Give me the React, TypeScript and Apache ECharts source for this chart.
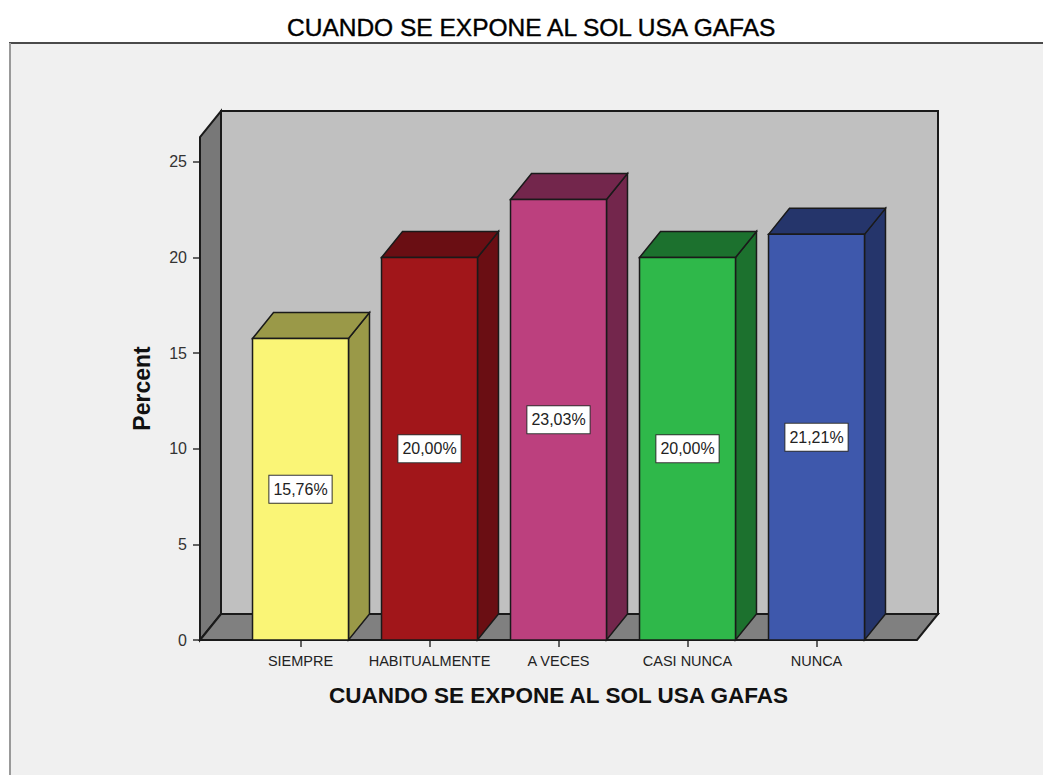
import React, { useEffect, useRef } from "react";
import * as echarts from "echarts";

// Frequency of "CUANDO SE EXPONE AL SOL USA GAFAS", in percent
const categories = ["SIEMPRE", "HABITUALMENTE", "A VECES", "CASI NUNCA", "NUNCA"];
const percents = [15.76, 20.0, 23.03, 20.0, 21.21];
const yTickValues = [0, 5, 10, 15, 20, 25];
const yMax = 26.3;

const chartTitle = "CUANDO SE EXPONE AL SOL USA GAFAS";
const xAxisTitle = "CUANDO SE EXPONE AL SOL USA GAFAS";
const yAxisTitle = "Percent";

// Face colours of each bar: front face and the darker top / side faces
const frontColors = ["#FAF576", "#A1161A", "#BC407E", "#2FB84A", "#3E58AC"];
const shadeColors = ["#9A9948", "#6A0E13", "#73264C", "#1C712E", "#25356B"];

const FONT = "'Liberation Sans', Arial, Helvetica, sans-serif";
const EDGE = "#1a1a1a";
const DX = 21; // depth offset of the 3D extrusion
const DY = -26;
const BAR_RATIO = 0.744;
const PAD_L = 36; // plot box extends past the category band
const PAD_R = 36;

const fmtPercent = (v: number) => v.toFixed(2).replace(".", ",") + "%";

export default function App() {
  const ref = useRef<HTMLDivElement>(null);

  useEffect(() => {
    document.body.style.margin = "0";
    if (!ref.current) return;
    const chart = echarts.init(ref.current, null, { renderer: "svg" });

    const option: any = {
      animation: false,
      backgroundColor: "#ffffff",
      title: {
        text: chartTitle,
        left: 282,
        top: 10,
        textStyle: {
          fontFamily: FONT,
          fontSize: 24.5,
          fontWeight: "normal",
          color: "#000",
          textBorderColor: "#000",
          textBorderWidth: 0.4,
        },
      },
      graphic: [
        {
          type: "group",
          z: -10,
          silent: true,
          children: [
            {
              type: "rect",
              shape: { x: 10, y: 43, width: 1040, height: 740 },
              style: { fill: "#F0F0F0" },
            },
            {
              type: "line",
              shape: { x1: 9, y1: 43, x2: 1043, y2: 43 },
              style: { stroke: "#4a4a4a", lineWidth: 2 },
            },
            {
              type: "line",
              shape: { x1: 10, y1: 43, x2: 10, y2: 775 },
              style: { stroke: "#999", lineWidth: 2 },
            },
          ],
        },
      ],
      grid: { left: 236, right: 162, top: 137, bottom: 135, containLabel: false },
      xAxis: {
        type: "category",
        data: categories,
        boundaryGap: true,
        axisLine: { show: false },
        axisTick: {
          show: true,
          interval: 0,
          alignWithLabel: true,
          length: 7,
          lineStyle: { color: "#333", width: 1.5 },
        },
        axisLabel: {
          interval: 0,
          margin: 13,
          fontFamily: FONT,
          fontSize: 14.5,
          color: "#222",
        },
        name: xAxisTitle,
        nameLocation: "middle",
        nameGap: 44,
        nameTextStyle: {
          fontFamily: FONT,
          fontSize: 22.5,
          fontWeight: "bold",
          color: "#111",
        },
      },
      yAxis: {
        type: "value",
        min: 0,
        max: yMax,
        offset: PAD_L,
        splitLine: { show: false },
        axisLine: { show: false },
        axisTick: {
          show: true,
          length: 7,
          customValues: yTickValues,
          lineStyle: { color: "#333", width: 1.5 },
        },
        axisLabel: {
          margin: 13,
          customValues: yTickValues,
          fontFamily: FONT,
          fontSize: 16,
          color: "#333",
        },
        name: yAxisTitle,
        nameLocation: "middle",
        nameGap: 47,
        nameTextStyle: {
          fontFamily: FONT,
          fontSize: 23,
          fontWeight: "bold",
          color: "#111",
        },
      },
      series: [
        {
          // back wall, left wall and floor of the 3D plot box
          type: "custom",
          z: 1,
          silent: true,
          data: [[0, 0]],
          encode: { x: 0, y: 1 },
          renderItem: (params: any) => {
            const cs = params.coordSys;
            const L = cs.x - PAD_L;
            const R = cs.x + cs.width + PAD_R;
            const T = cs.y;
            const B = cs.y + cs.height;
            const stroke = { stroke: EDGE, lineWidth: 2 };
            return {
              type: "group",
              children: [
                {
                  type: "rect",
                  shape: { x: L + DX, y: T + DY, width: R - L, height: B - T },
                  style: { fill: "#C0C0C0", ...stroke },
                },
                {
                  type: "polygon",
                  shape: { points: [[L, B], [L, T], [L + DX, T + DY], [L + DX, B + DY]] },
                  style: { fill: "#787878", ...stroke },
                },
                {
                  type: "polygon",
                  shape: { points: [[L, B], [R, B], [R + DX, B + DY], [L + DX, B + DY]] },
                  style: { fill: "#808080", ...stroke },
                },
              ],
            };
          },
        },
        {
          type: "custom",
          z: 3,
          data: percents.map((v, i) => [i, v]),
          encode: { x: 0, y: 1 },
          renderItem: (params: any, api: any) => {
            const i = api.value(0);
            const v = api.value(1);
            const base = api.coord([i, 0]);
            const top = api.coord([i, v]);
            const mid = api.coord([i, v / 2]);
            const band = api.size([1, 0])[0];
            const w = band * BAR_RATIO;
            const x0 = base[0] - w / 2;
            const x1 = base[0] + w / 2;
            const yb = base[1];
            const yt = top[1];
            const edge = { stroke: EDGE, lineWidth: 1.5 };
            const idx = params.dataIndex;
            return {
              type: "group",
              children: [
                {
                  type: "polygon",
                  shape: { points: [[x1, yb], [x1, yt], [x1 + DX, yt + DY], [x1 + DX, yb + DY]] },
                  style: { fill: shadeColors[idx], ...edge },
                },
                {
                  type: "polygon",
                  shape: { points: [[x0, yt], [x0 + DX, yt + DY], [x1 + DX, yt + DY], [x1, yt]] },
                  style: { fill: shadeColors[idx], ...edge },
                },
                {
                  type: "rect",
                  shape: { x: x0, y: yt, width: w, height: yb - yt },
                  style: { fill: frontColors[idx], ...edge },
                },
                {
                  type: "text",
                  x: base[0],
                  y: mid[1],
                  style: {
                    text: fmtPercent(v),
                    align: "center",
                    verticalAlign: "middle",
                    fontFamily: FONT,
                    fontSize: 16,
                    lineHeight: 18,
                    fill: "#222",
                    backgroundColor: "#ffffff",
                    borderColor: "#333",
                    borderWidth: 1,
                    padding: [5, 4, 4, 4],
                  },
                },
              ],
            };
          },
        },
      ],
    };

    chart.setOption(option);
    return () => chart.dispose();
  }, []);

  return <div ref={ref} style={{ width: 1043, height: 775 }} />;
}
